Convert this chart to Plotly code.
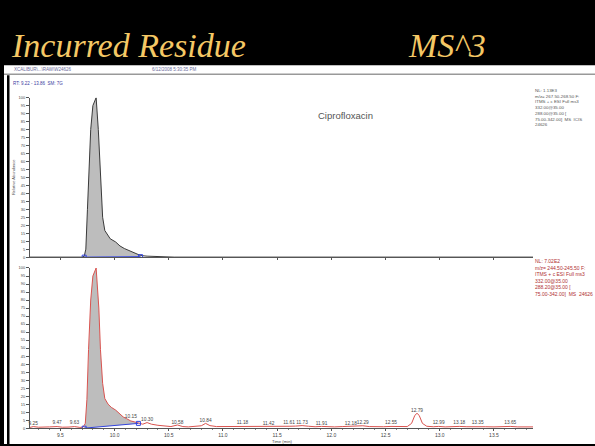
import plotly.graph_objects as go

W, H = 595, 446

# ---------------- data ----------------
upper_t = [9.22, 9.40, 9.60, 9.70, 9.72, 9.735, 9.75, 9.765, 9.78, 9.80, 9.83, 9.85, 9.87, 9.89, 9.91,
           9.94, 9.96, 10.01, 10.05, 10.09, 10.13, 10.16, 10.20, 10.24, 10.30, 10.45, 10.55, 11.0,
           11.5, 12.0, 12.5, 13.0, 13.5, 13.86]
upper_v = [0, 0, 0, 0, 0.5, 5, 30, 55, 80, 95, 100, 80, 48, 25, 16.7,
           13, 11.5, 9.5, 7, 5.4, 4.2, 3.3, 2, 1, 0.6, 0.4, 0, 0,
           0, 0, 0, 0, 0, 0]

lower_t = [9.22, 9.25, 9.30, 9.35, 9.40, 9.47, 9.52, 9.58, 9.63, 9.68, 9.71, 9.73, 9.745, 9.76, 9.78,
           9.80, 9.83, 9.855, 9.87, 9.89, 9.91, 9.94, 9.97, 10.01, 10.05, 10.08, 10.11, 10.15, 10.18,
           10.22, 10.26, 10.30, 10.34, 10.40, 10.46, 10.52, 10.58, 10.63, 10.68, 10.74, 10.80, 10.84,
           10.88, 10.94, 11.00, 11.06, 11.12, 11.18, 11.24, 11.30, 11.36, 11.42, 11.48, 11.55, 11.61,
           11.67, 11.73, 11.79, 11.85, 11.91, 11.97, 12.03, 12.10, 12.18, 12.23, 12.29, 12.35, 12.42,
           12.48, 12.55, 12.62, 12.70, 12.74, 12.77, 12.79, 12.81, 12.84, 12.88, 12.94, 12.99, 13.05,
           13.12, 13.18, 13.25, 13.30, 13.35, 13.42, 13.50, 13.58, 13.65, 13.72, 13.80, 13.86]
lower_v = [0.5, 1.0, 0.6, 0.5, 0.8, 1.0, 0.6, 0.7, 1.0, 0.5, 0.6, 3, 18, 49, 80,
           95, 100, 75, 49, 28, 18.5, 15, 13, 11.3, 9, 7, 6, 4.5, 4,
           3.2, 2.5, 3.5, 2.5, 1.8, 1.2, 1.0, 2.0, 1.0, 0.8, 1.2, 1.5, 3.0,
           1.6, 1.0, 1.0, 0.8, 1.0, 1.2, 0.9, 1.0, 0.8, 1.2, 0.9, 1.0, 1.2,
           1.3, 1.6, 1.2, 0.9, 1.1, 0.9, 0.8, 1.0, 1.2, 1.0, 1.5, 1.0, 0.8,
           0.9, 1.1, 0.9, 1.0, 3, 8, 9.3, 8, 3, 1.2, 0.9, 1.1, 0.8,
           1.0, 1.1, 0.9, 1.0, 1.2, 0.9, 0.8, 1.0, 1.1, 0.8, 0.9, 0.8]

upper_base_t = [9.72, 10.24]
upper_base_v = [0, 0.3]
lower_base_t = [9.72, 10.22]
lower_base_v = [0, 3]

rt_labels = [9.25, 9.47, 9.63, 10.15, 10.30, 10.58, 10.84, 11.18, 11.42, 11.61, 11.73, 11.91,
             12.18, 12.29, 12.55, 12.79, 12.99, 13.18, 13.35, 13.65]
rt_label_heights = [3, 3.2, 3.2, 7.4, 5.5, 3.6, 4.5, 3.2, 3.0, 3.2, 3.6, 3.0,
                    3.0, 3.6, 3.2, 11, 3.2, 3.2, 3.2, 3.2]

y_ticks = list(range(0, 101, 5))
x_ticks = [9.5, 10.0, 10.5, 11.0, 11.5, 12.0, 12.5, 13.0, 13.5]
x_tick_text = ["9.5", "10.0", "10.5", "11.0", "11.5", "12.0", "12.5", "13.0", "13.5"]

upper_info = ["NL: 1.13E3", "m/z= 267.50-268.50 F:", "ITMS + c ESI Full ms3", "332.00@35.00",
              "288.00@35.00 [", "75.00-342.00]  MS  ICIS", "24626"]
lower_info = ["NL: 7.02E2", "m/z= 244.50-245.50 F:", "ITMS + c ESI Full ms3", "332.00@35.00",
              "288.20@35.00 [", "75.00-342.00]  MS  24626"]


def xp(px):
    return px / W


def yp(py):
    return 1 - py / H


def fill_poly(t, v, bt, bv):
    pts = [(a, b) for a, b in zip(t, v) if bt[0] <= a <= bt[1]]
    xs = [bt[0]] + [p[0] for p in pts] + [bt[1]] + [bt[0]]
    ys = [bv[0]] + [p[1] for p in pts] + [bv[1]] + [bv[0]]
    return xs, ys


fig = go.Figure()

# upper chromatogram
ux, uy = fill_poly(upper_t, upper_v, upper_base_t, upper_base_v)
fig.add_trace(go.Scatter(x=ux, y=uy, fill="toself", fillcolor="#BDBDBD", line=dict(width=0),
                         mode="lines", xaxis="x", yaxis="y", hoverinfo="skip"))
fig.add_trace(go.Scatter(x=upper_t, y=upper_v, mode="lines", line=dict(color="#3a3a3a", width=1),
                         xaxis="x", yaxis="y"))
fig.add_trace(go.Scatter(x=upper_base_t, y=upper_base_v, mode="lines+markers",
                         line=dict(color="#3344dd", width=1),
                         marker=dict(symbol="square-open", size=4, color="#3344dd"),
                         xaxis="x", yaxis="y"))

# lower chromatogram
lx, ly = fill_poly(lower_t, lower_v, lower_base_t, lower_base_v)
fig.add_trace(go.Scatter(x=lx, y=ly, fill="toself", fillcolor="#BDBDBD", line=dict(width=0),
                         mode="lines", xaxis="x2", yaxis="y2", hoverinfo="skip"))
fig.add_trace(go.Scatter(x=lower_t, y=lower_v, mode="lines", line=dict(color="#d9534f", width=1),
                         xaxis="x2", yaxis="y2"))
fig.add_trace(go.Scatter(x=lower_base_t, y=lower_base_v, mode="lines+markers",
                         line=dict(color="#3344dd", width=1),
                         marker=dict(symbol="square-open", size=4, color="#3344dd"),
                         xaxis="x2", yaxis="y2"))
fig.add_trace(go.Scatter(x=rt_labels, y=rt_label_heights, mode="text",
                         text=[f"{v:.2f}" for v in rt_labels], textposition="middle center",
                         textfont=dict(size=4.8, color="#444", family="Liberation Sans"),
                         cliponaxis=False, xaxis="x2", yaxis="y2"))

xdom = [xp(30), xp(533)]
axis_common = dict(showgrid=False, zeroline=False, showline=True, linecolor="#555", linewidth=1)

fig.update_layout(
    width=W, height=H, margin=dict(l=0, r=0, t=0, b=0),
    paper_bgcolor="black", plot_bgcolor="rgba(0,0,0,0)", showlegend=False,
    xaxis=dict(domain=xdom, range=[9.22, 13.86], anchor="y", tickvals=x_ticks, showticklabels=False,
               ticks="outside", ticklen=2, tickcolor="#555", **axis_common),
    yaxis=dict(domain=[yp(257), yp(95.7)], range=[0, 100], anchor="x", tickvals=y_ticks,
               ticks="outside", ticklen=3, tickcolor="#555",
               tickfont=dict(size=4, color="#444", family="Liberation Sans"), **axis_common),
    xaxis2=dict(domain=xdom, range=[9.22, 13.86], anchor="y2", tickvals=x_ticks, ticktext=x_tick_text,
                ticks="outside", ticklen=2, tickcolor="#555",
                minor=dict(ticks="outside", ticklen=1, dtick=0.1, tickcolor="#888"),
                tickfont=dict(size=5, color="#444", family="Liberation Sans"), **axis_common),
    yaxis2=dict(domain=[yp(430), yp(268)], range=[0, 100], anchor="x2", tickvals=y_ticks,
                ticks="outside", ticklen=3, tickcolor="#555",
                tickfont=dict(size=4, color="#444", family="Liberation Sans"), **axis_common),
)

shapes = [
    dict(type="rect", xref="paper", yref="paper", x0=xp(4), x1=1, y0=0, y1=yp(63),
         fillcolor="white", line=dict(width=0), layer="below"),
    dict(type="line", xref="paper", yref="paper", x0=xp(4), x1=1, y0=yp(72), y1=yp(72),
         line=dict(color="#999", width=1.5)),
    dict(type="rect", xref="paper", yref="paper", x0=xp(7), x1=xp(9.5), y0=0, y1=yp(73),
         fillcolor="black", line=dict(width=0)),
]
fig.update_layout(shapes=shapes)

ann = []
ann.append(dict(text="<i>Incurred Residue</i>", x=xp(9), y=yp(43), xref="paper", yref="paper",
                xanchor="left", yanchor="middle", showarrow=False,
                font=dict(family="Liberation Serif", size=34, color="#F5C865")))
ann.append(dict(text="<i>MS^3</i>", x=xp(406), y=yp(43), xref="paper", yref="paper",
                xanchor="left", yanchor="middle", showarrow=False,
                font=dict(family="Liberation Serif", size=34, color="#F5C865")))
ann.append(dict(text="XCALIBUR\\...\\RAW\\W24626", x=xp(12), y=yp(67), xref="paper", yref="paper",
                xanchor="left", yanchor="middle", showarrow=False,
                font=dict(family="Liberation Sans", size=4.5, color="#6b6b9b")))
ann.append(dict(text="6/12/2008 5:30:35 PM", x=xp(150), y=yp(67), xref="paper", yref="paper",
                xanchor="left", yanchor="middle", showarrow=False,
                font=dict(family="Liberation Sans", size=4.5, color="#6b6b9b")))
ann.append(dict(text="RT: 9.22 - 13.86  SM: 7G", x=xp(11), y=yp(81), xref="paper", yref="paper",
                xanchor="left", yanchor="middle", showarrow=False,
                font=dict(family="Liberation Sans", size=4.5, color="#3a3aa0")))
ann.append(dict(text="Ciprofloxacin", x=xp(345), y=yp(114), xref="paper", yref="paper",
                xanchor="center", yanchor="middle", showarrow=False,
                font=dict(family="Liberation Sans", size=9.5, color="#555")))
ann.append(dict(text="Relative Abundance", x=xp(13), y=yp(176), xref="paper", yref="paper",
                textangle=-90, xanchor="center", yanchor="middle", showarrow=False,
                font=dict(family="Liberation Sans", size=4, color="#555")))
ann.append(dict(text="Time (min)", x=xp(282), y=yp(443), xref="paper", yref="paper",
                xanchor="center", yanchor="middle", showarrow=False,
                font=dict(family="Liberation Sans", size=4.2, color="#444")))
ann.append(dict(text="<br>".join(upper_info), x=xp(533), y=yp(84), xref="paper", yref="paper",
                xanchor="left", yanchor="top", align="left", showarrow=False,
                font=dict(family="Liberation Sans", size=4.4, color="#555")))
ann.append(dict(text="<br>".join(lower_info), x=xp(533), y=yp(256), xref="paper", yref="paper",
                xanchor="left", yanchor="top", align="left", showarrow=False,
                font=dict(family="Liberation Sans", size=5.0, color="#b03030")))
# peak labels
ann.append(dict(text="RT: 9.83<br>AA: 7530", x=9.83, y=101, xref="x", yref="y",
                xanchor="center", yanchor="bottom", showarrow=False,
                font=dict(family="Liberation Sans", size=4.5, color="#333")))
ann.append(dict(text="RT: 9.83<br>MA: 4718", x=9.83, y=101, xref="x2", yref="y2",
                xanchor="center", yanchor="bottom", showarrow=False,
                font=dict(family="Liberation Sans", size=4.5, color="#333")))
fig.update_layout(annotations=ann)

fig.write_html("out.html", config={"displayModeBar": False},
               post_script="document.body.style.margin='0';document.body.style.overflow='hidden';")
